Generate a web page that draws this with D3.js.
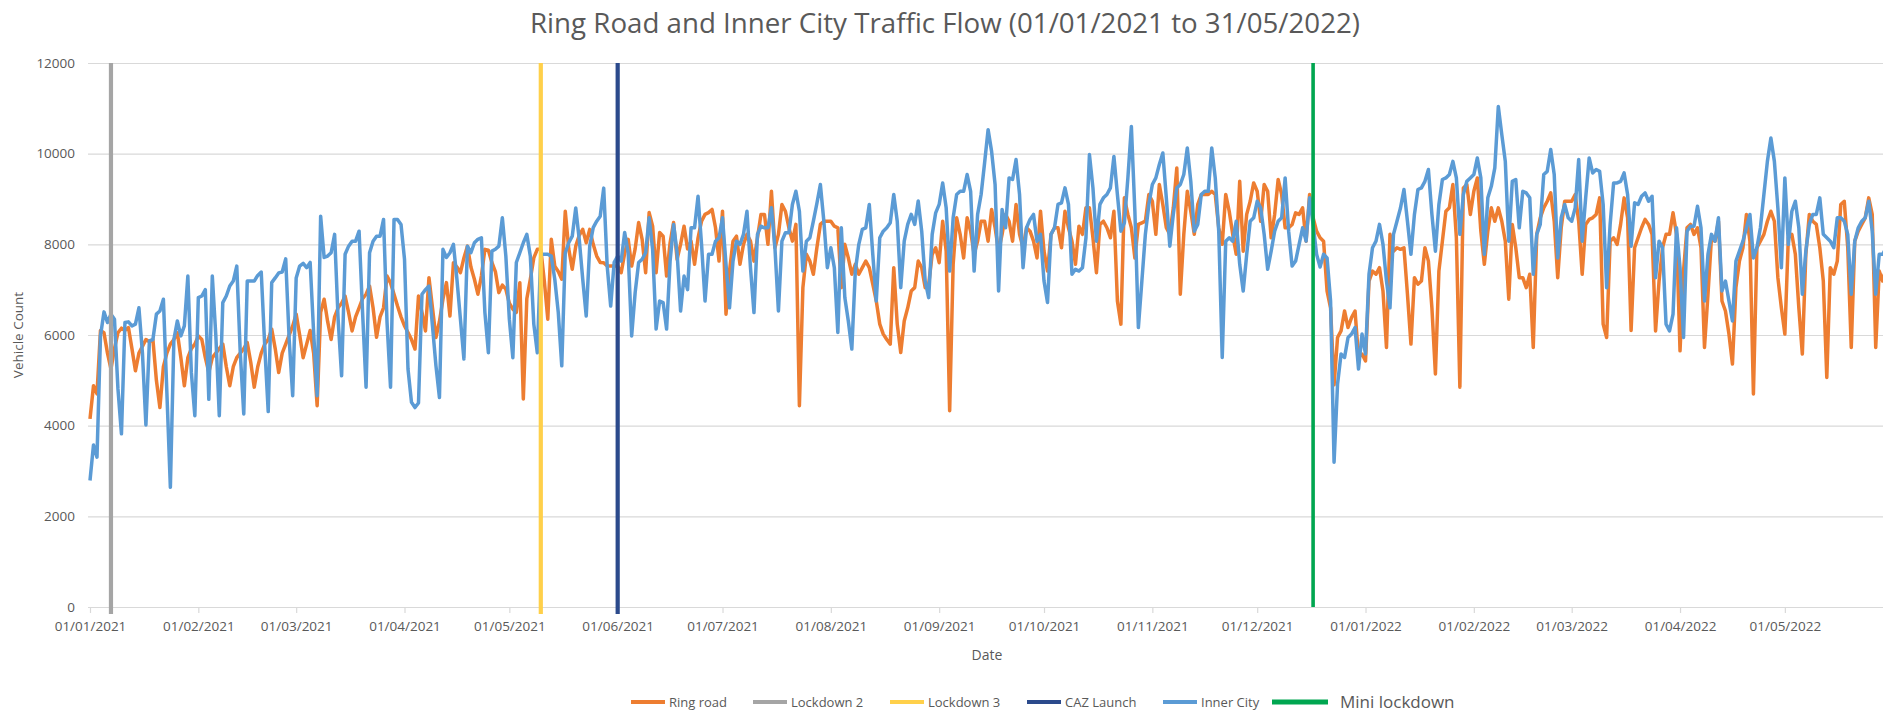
<!DOCTYPE html>
<html>
<head>
<meta charset="utf-8">
<script src="https://cdn.jsdelivr.net/npm/d3@7"></script>
<style>
  body { margin: 0; background: #fff; }
  svg { display: block; font-family: "Open Sans", sans-serif; }
</style>
</head>
<body>
<svg id="chart" width="1883" height="716"></svg>
<script>
// ---------- Data (daily counts) ----------
const startDate = "2021-01-01";

// Ring road daily vehicle count, one value per day from 01/01/2021
const ringRoad = [
  4150, 4880, 4700, 6100, 6050, 5600, 5250, 5700, 6050, 6150,
  6100, 6165, 5700, 5210, 5600, 5750, 5900, 5850, 5905, 5000,
  4400, 5300, 5600, 5800, 5900, 6050, 5500, 4880, 5500, 5700,
  5800, 5980, 5900, 5500, 5175, 5500, 5600, 5700, 5800, 5300,
  4880, 5300, 5500, 5600, 5700, 5835, 5400, 4850, 5300, 5600,
  5800, 5900, 6130, 5700, 5175, 5600, 5800, 6000, 6200, 6460,
  6000, 5500, 5800, 6100, 5600, 4440, 6500, 6790, 6300, 5900,
  6400, 6600, 6700, 6860, 6500, 6090, 6400, 6600, 6800, 6900,
  7080, 6600, 5950, 6400, 6600, 7300, 7150, 6900, 6640, 6400,
  6200, 6055, 5900, 5690, 6860, 6500, 6090, 7265, 6600, 5945,
  6300, 6790, 7155, 6420, 7595, 7500, 7375, 7700, 7960, 7500,
  7230, 6900, 7300, 7890, 7870, 7600, 7400, 6935, 7100, 7010,
  6700, 6570, 6500, 7155, 4590, 6800, 7230, 7700, 7890, 7890,
  7200, 6350, 8110, 7520, 7400, 7230, 8730, 7900, 7450, 7960,
  8200, 8330, 8035, 8330, 8000, 7740, 7600, 7595, 7520, 7520,
  7520, 7520, 7375, 7800, 8110, 7520, 7900, 8480, 8110, 7375,
  8700, 8400, 7375, 8260, 8180, 7300, 8035, 8480, 7670, 8000,
  8400, 7900, 8070, 7560, 8145, 8510, 8660, 8700, 8770, 8365,
  7630, 8730, 6460, 7410, 8070, 8180, 7560, 8000, 8220, 8070,
  7630, 8145, 8660, 8660, 8000, 9170, 7925, 8220, 8880, 8730,
  8365, 8070, 8440, 4440, 7045, 7780, 7630, 7340, 7925, 8440,
  8510, 8510, 8510, 8400, 8365, 7045, 8000, 7700, 7340, 7560,
  7340, 7485, 7630, 7485, 7120, 6750, 6240, 6020, 5900, 5800,
  7485, 6240, 5615, 6310, 6600, 6970, 7045, 7630, 7485, 7045,
  7120, 7780, 7925, 7595, 8510, 7850, 4330, 7560, 8585, 8220,
  7700, 8585, 8290, 7780, 8070, 8510, 8510, 8070, 8770, 8365,
  7850, 8220, 8660, 8510, 8070, 8880, 8220, 7925, 8365, 8290,
  8070, 7700, 8730, 7850, 7410, 8220, 8365, 8365, 7925, 8730,
  8365, 8070, 7560, 8400, 8220, 8805, 8805, 8145, 7375, 8440,
  8510, 8365, 8145, 8730, 6750, 6240, 9025, 8660, 8365, 7700,
  8440, 8475, 8510, 9100, 8950, 8220, 9320, 8880, 8365, 8220,
  8805, 9685, 6900, 8220, 9170, 8730, 8220, 8880, 9100, 9100,
  9100, 9170, 9100, 8365, 8000, 9100, 8730, 8220, 7780, 9390,
  7850, 8660, 8950, 9355, 9170, 8510, 9320, 9170, 8145, 8660,
  9430, 9100, 8365, 8365, 8440, 8695, 8660, 8805, 8070, 9100,
  8585, 8290, 8145, 8070, 6970, 6600, 4900, 5945, 6090, 6530,
  6165, 6385, 6530, 5505, 5580, 5430, 7190, 7410, 7340, 7485,
  6970, 5725, 8220, 7850, 7925, 7890, 7925, 6900, 5800, 7265,
  7120, 7190, 7925, 7630, 6600, 5140, 7410, 8070, 8730, 8805,
  9320, 8145, 4850, 9245, 9320, 8660, 9170, 9465, 8290, 7560,
  8290, 8805, 8510, 8805, 8510, 8070, 6790, 8440, 7925, 7265,
  7265, 7045, 7340, 5725, 8220, 8585, 8805, 8950, 9135, 8510,
  7265, 8365, 8950, 8950, 8950, 9100, 8510, 7340, 8440, 8550,
  8585, 8660, 9025, 6240, 5945, 8070, 8145, 8000, 8440, 9025,
  8585, 6100, 7925, 8145, 8365, 8550, 8440, 8220, 6090, 7190,
  7925, 8220, 8220, 8695, 8220, 5650, 7410, 8365, 8440, 8220,
  8365, 7925, 5725, 6900, 8145, 8070, 8510, 6750, 6530, 6020,
  5360, 7045, 7630, 7925, 8660, 8070, 4700, 7925, 8070, 8220,
  8510, 8730, 8510, 7265, 6600, 6020, 8145, 8220, 7780, 6600,
  5580, 7780, 8660, 8510, 8440, 7925, 7190, 5065, 7485, 7340,
  7630, 8880, 8950, 7925, 5725, 8070, 8290, 8440, 8585, 9025,
  8660, 5725, 7410, 7190, 7500, 7600
];

// Inner city daily vehicle count, one value per day from 01/01/2021
const innerCity = [
  2790, 3575, 3305, 5980, 6510, 6275, 6460, 6350, 4810, 3820,
  6275, 6290, 6200, 6240, 6600, 5610, 4015, 5870, 5900, 6460,
  6530, 6790, 4730, 2640, 5900, 6310, 5980, 6200, 7300, 5175,
  4220, 6825, 6860, 7000, 4580, 7300, 6000, 4220, 6715, 6860,
  7080, 7190, 7520, 5610, 4260, 7190, 7190, 7190, 7315, 7390,
  5760, 4310, 7155, 7260, 7370, 7390, 7680, 5900, 4660, 7260,
  7520, 7580, 7485, 7600, 6050, 4660, 8620, 7710, 7740, 7815,
  8220, 6350, 5100, 7780, 7960, 8070, 8070, 8290, 6500, 4850,
  7815, 8070, 8180, 8180, 8550, 6275, 4850, 8550, 8550, 8440,
  7670, 5250, 4515, 4400, 4500, 6900, 7000, 7080, 6200, 5320,
  4620, 7890, 7710, 7815, 8000, 7230, 6350, 5470, 7960, 7815,
  8035, 8110, 8145, 6500, 5610, 7850, 7890, 7960, 8585, 7740,
  6350, 5500, 7600, 7815, 8035, 8220, 7740, 6240, 5610, 7780,
  7780, 7780, 7740, 7230, 6500, 5320, 7815, 8035, 8180, 8800,
  8110, 7230, 6420, 7960, 8370, 8510, 8620, 9240, 7520, 6640,
  7600, 7740, 7630, 8260, 7815, 5980, 6935, 7600, 7670, 7815,
  8585, 7890, 6130, 6750, 6715, 6130, 7630, 8440, 7815, 6530,
  7300, 7000, 8365, 8365, 9060, 8000, 6750, 7780, 7780, 8070,
  8145, 8585, 7560, 6600, 7630, 8070, 8000, 8220, 8730, 7485,
  6495, 8220, 8400, 8365, 8365, 8805, 7925, 6530, 8070, 8255,
  8255, 8880, 9170, 8730, 7410, 8070, 8145, 8510, 8900, 9320,
  8510, 7485, 7925, 7485, 6055, 8365, 6825, 6310, 5690, 7410,
  8000, 8330, 8365, 8880, 7780, 6750, 8145, 8290, 8365, 8475,
  9100, 8510, 7045, 8070, 8440, 8660, 8440, 8955, 8290, 7190,
  6825, 8220, 8695, 8880, 9355, 8805, 7410, 8585, 9100, 9170,
  9170, 9540, 9170, 7410, 8660, 9100, 9800, 10530, 10050, 9320,
  6970, 8770, 8365, 9465, 9430, 9870, 9100, 7485, 8365, 8550,
  8660, 8070, 8220, 7190, 6715, 8220, 8365, 8880, 8915, 9245,
  8880, 7340, 7450, 7410, 7485, 8145, 9980, 9245, 8070, 8880,
  9025, 9100, 9245, 9940, 9100, 8290, 8475, 9465, 10600, 8730,
  6165, 7190, 8220, 8880, 9320, 9465, 9760, 10015, 9025, 7960,
  8660, 9245, 9320, 9540, 10125, 9390, 8290, 8440, 9100, 9170,
  9170, 10125, 9465, 8290, 5505, 8070, 8145, 8070, 8510, 7560,
  6970, 7780, 8510, 8585, 8950, 8805, 8220, 7450, 7850, 8290,
  8510, 8585, 9465, 8290, 7520, 7630, 8000, 8365, 8070, 9025,
  8440, 7780, 7500, 7780, 7700, 6750, 3195, 4920, 5580, 5505,
  5945, 6020, 6165, 5250, 6020, 5580, 7340, 7925, 8070, 8440,
  8000, 7190, 6600, 8220, 8510, 8800, 9210, 8510, 7780, 8660,
  9210, 9245, 9390, 9650, 8660, 7850, 8880, 9430, 9465, 9540,
  9830, 9465, 8220, 9100, 9390, 9465, 9540, 9905, 9465, 7780,
  9025, 9280, 9685, 11040, 10420, 9830, 8070, 9390, 9430, 8365,
  9170, 9135, 9025, 7340, 8220, 8440, 9540, 9610, 10090, 9540,
  7700, 8585, 8880, 8585, 8510, 8805, 9870, 8070, 9025, 9905,
  9575, 9650, 9610, 8880, 7045, 8440, 9355, 9355, 9390, 9575,
  9100, 7960, 8915, 8880, 9060, 9135, 8950, 9060, 7265, 8070,
  7925, 6240, 6090, 6460, 8365, 7485, 5945, 8290, 8400, 8400,
  8840, 8365, 6750, 7780, 8220, 8070, 8585, 6970, 7190, 6750,
  6310, 7630, 7850, 8070, 8365, 8660, 7700, 7925, 8365, 9100,
  9830, 10345, 9830, 8805, 7485, 9465, 8000, 8730, 8950, 8365,
  6900, 7850, 8440, 8660, 8660, 9025, 8220, 8145, 8070, 7925,
  8585, 8585, 8510, 8220, 6900, 8070, 8365, 8510, 8585, 8950,
  8290, 6900, 7780, 7780, 7925, 7800
];

// vertical event markers
const eventNames = ["Lockdown 2", "Lockdown 3", "CAZ Launch", "Mini lockdown"];
const eventDates = ["2021-01-07", "2021-05-10", "2021-06-01", "2021-12-17"];

// axis ticks
const monthTicks = [
  "2021-01-01", "2021-02-01", "2021-03-01", "2021-04-01", "2021-05-01", "2021-06-01",
  "2021-07-01", "2021-08-01", "2021-09-01", "2021-10-01", "2021-11-01", "2021-12-01",
  "2022-01-01", "2022-02-01", "2022-03-01", "2022-04-01", "2022-05-01"
];
const yTicks = [0, 2000, 4000, 6000, 8000, 10000, 12000];

const legendNames = ["Ring road", "Lockdown 2", "Lockdown 3", "CAZ Launch", "Inner City", "Mini lockdown"];

// ---------- Styles ----------
const colors = {
  "Ring road": "#ED7D31",
  "Inner City": "#5B9BD5",
  "Lockdown 2": "#A5A5A5",
  "Lockdown 3": "#FFD04A",
  "CAZ Launch": "#2B4A8C",
  "Mini lockdown": "#00A650"
};
const textColor = "#595959";
const gridColor = "#D9D9D9";

// ---------- Layout ----------
const W = 1883, H = 716;
const plotLeft = 88, plotTop = 63, plotBottom = 607;

const parse = d3.utcParse("%Y-%m-%d");
const t0 = parse(startDate);
const dates = innerCity.map((d, i) => d3.utcDay.offset(t0, i));

const x = d3.scaleUtc()
  .domain([parse("2021-01-01"), parse("2022-05-31")])
  .range([90, 1889.7]);
const y = d3.scaleLinear().domain([0, 12000]).range([plotBottom, plotTop]);

const svg = d3.select('#chart');

// Title
svg.append('text')
  .attr('x', 945).attr('y', 33)
  .attr('text-anchor', 'middle')
  .attr('font-size', 27)
  .attr('fill', textColor)
  .attr('textLength', 830)
  .attr('lengthAdjust', 'spacingAndGlyphs')
  .text('Ring Road and Inner City Traffic Flow (01/01/2021 to 31/05/2022)');

// Y axis with gridlines
const yAxis = svg.append('g')
  .attr('transform', `translate(${plotLeft},0)`)
  .call(d3.axisLeft(y).tickValues(yTicks).tickSize(-(W - plotLeft)).tickPadding(13).tickFormat(d3.format('d')));
yAxis.select('.domain').remove();
yAxis.selectAll('line').attr('stroke', gridColor).attr('stroke-width', 1.2);
yAxis.selectAll('text').attr('fill', textColor).attr('font-size', 13.5).attr('font-family', '"Open Sans", sans-serif');

// X axis
const xAxis = svg.append('g')
  .attr('transform', `translate(0,${plotBottom})`)
  .call(d3.axisBottom(x).tickValues(monthTicks.map(parse)).tickSize(6).tickPadding(8)
    .tickFormat(d3.utcFormat('%d/%m/%Y')));
xAxis.select('.domain').remove();
xAxis.selectAll('line').attr('stroke', gridColor).attr('stroke-width', 1.2);
xAxis.selectAll('text').attr('fill', textColor).attr('font-size', 13.5).attr('font-family', '"Open Sans", sans-serif');

// Axis titles
svg.append('text')
  .attr('transform', `translate(23,335) rotate(-90)`)
  .attr('text-anchor', 'middle')
  .attr('font-size', 13.5)
  .attr('fill', textColor)
  .text('Vehicle Count');

svg.append('text')
  .attr('x', 987).attr('y', 660)
  .attr('text-anchor', 'middle')
  .attr('font-size', 14)
  .attr('fill', textColor)
  .text('Date');

// Series lines
const line = d3.line()
  .x((d, i) => x(dates[i]))
  .y(d => y(d))
  .curve(d3.curveLinear);

svg.append('path')
  .datum(ringRoad)
  .attr('fill', 'none')
  .attr('stroke', colors['Ring road'])
  .attr('stroke-width', 3.5)
  .attr('stroke-linejoin', 'round')
  .attr('d', line);

svg.append('path')
  .datum(innerCity)
  .attr('fill', 'none')
  .attr('stroke', colors['Inner City'])
  .attr('stroke-width', 3.5)
  .attr('stroke-linejoin', 'round')
  .attr('d', line);

// Event markers
svg.selectAll('line.event')
  .data(eventNames)
  .enter().append('line')
  .attr('class', 'event')
  .attr('x1', (d, i) => x(parse(eventDates[i])))
  .attr('x2', (d, i) => x(parse(eventDates[i])))
  .attr('y1', plotTop)
  .attr('y2', d => d === 'Mini lockdown' ? plotBottom : plotBottom + 7)
  .attr('stroke', d => colors[d])
  .attr('stroke-width', d => d === 'Mini lockdown' ? 3.6 : 4.2);

// Legend
const legendX = [631, 753, 890, 1027, 1163, 1272];
const legend = svg.append('g');
legendNames.forEach((name, i) => {
  const big = name === 'Mini lockdown';
  const len = big ? 56 : 34;
  legend.append('line')
    .attr('x1', legendX[i]).attr('x2', legendX[i] + len)
    .attr('y1', 702).attr('y2', 702)
    .attr('stroke', colors[name])
    .attr('stroke-width', big ? 5 : 4.2);
  legend.append('text')
    .attr('x', legendX[i] + len + (big ? 12 : 4))
    .attr('y', big ? 708 : 707)
    .attr('font-size', big ? 17 : 13)
    .attr('fill', textColor)
    .text(name);
});
</script>
</body>
</html>
